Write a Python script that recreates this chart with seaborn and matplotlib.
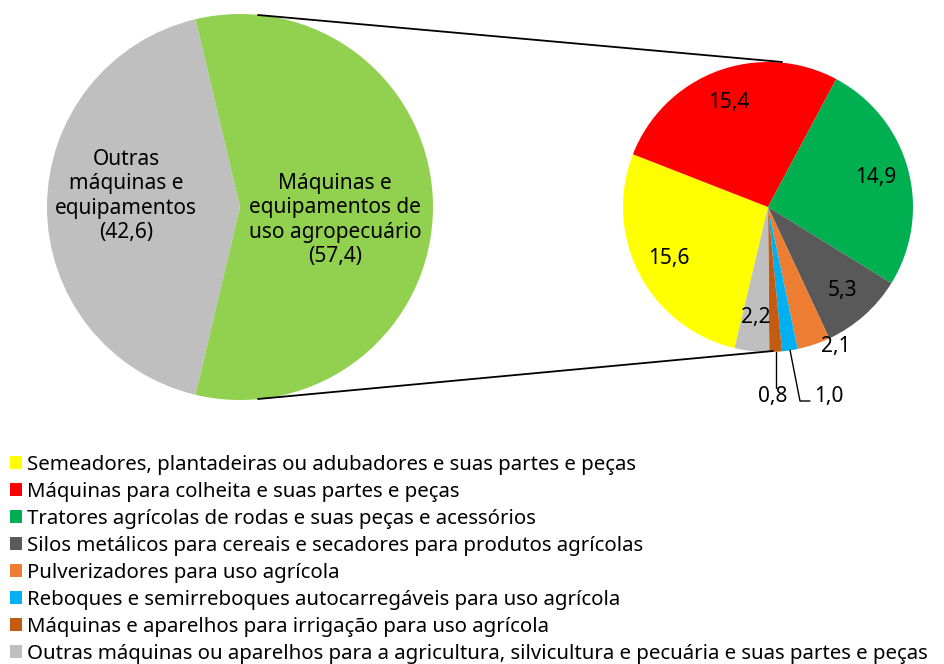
import numpy as np
import matplotlib
matplotlib.use("Agg")
import matplotlib.pyplot as plt
from matplotlib.patches import Patch
import seaborn as sns

# Share of sales: machinery groups (left) and breakdown of agricultural machinery (right)
main_labels = ["Outras\nmáquinas e\nequipamentos", "Máquinas e\nequipamentos de\nuso agropecuário"]
main_values = [42.6, 57.4]

sub_labels = [
    "Semeadores, plantadeiras ou adubadores e suas partes e peças",
    "Máquinas para colheita e suas partes e peças",
    "Tratores agrícolas de rodas e suas peças e acessórios",
    "Silos metálicos para cereais e secadores para produtos agrícolas",
    "Pulverizadores para uso agrícola",
    "Reboques e semirreboques autocarregáveis para uso agrícola",
    "Máquinas e aparelhos para irrigação para uso agrícola",
    "Outras máquinas ou aparelhos para a agricultura, silvicultura e pecuária e suas partes e peças",
]
sub_values = [15.6, 15.4, 14.9, 5.3, 2.1, 1.0, 0.8, 2.2]

sns.set_theme(style="white")
plt.rcParams["font.family"] = ["Noto Sans", "DejaVu Sans"]
plt.rcParams["text.color"] = "black"

main_colors = ["#BFBFBF", "#92D050"]
sub_colors = sns.color_palette(["#FFFF00", "#FF0000", "#00B050", "#595959",
                                "#ED7D31", "#00B0F0", "#C55A11", "#BFBFBF"])

W, H = 945, 664
fig = plt.figure(figsize=(W / 100, H / 100), dpi=100)
ax = fig.add_axes([0, 0, 1, 1])


def Y(y):
    return H - y


def fmt(v):
    return f"{v:.1f}".replace(".", ",")


FS = 15
LEG_FS = 14.7

# Left pie: the agricultural share is centred on the right-hand side
half = main_values[1] / sum(main_values) * 180
c1, r1 = (240, Y(207)), 193
ax.pie(main_values, colors=main_colors, startangle=half, counterclock=True,
       center=c1, radius=r1, frame=True, wedgeprops=dict(linewidth=0))

ax.text(126, Y(196), f"{main_labels[0]}\n({fmt(main_values[0])})", ha="center", va="center",
        fontsize=FS, linespacing=1.2)
ax.text(335, Y(220), f"{main_labels[1]}\n({fmt(main_values[1])})", ha="center", va="center",
        fontsize=FS, linespacing=1.2)

# Right pie: breakdown, clockwise from the lower-left
c2, r2 = (768, Y(207)), 145
wedges, _ = ax.pie(sub_values, colors=sub_colors, startangle=-half, counterclock=False,
                   center=c2, radius=r2, frame=True, wedgeprops=dict(linewidth=0))

# Value labels inside the larger slices
for i, w in enumerate(wedges):
    if i in (4, 5, 6):
        continue
    mid = np.deg2rad((w.theta1 + w.theta2) / 2)
    d = 0.77 * r2
    ax.text(c2[0] + d * np.cos(mid), c2[1] + d * np.sin(mid), fmt(sub_values[i]),
            ha="center", va="center", fontsize=FS)

# Small slices labelled outside
ax.text(836, Y(347), fmt(sub_values[4]), ha="center", va="center", fontsize=FS)
ax.plot([776, 776], [Y(352), Y(388)], color="black", lw=1)
ax.text(773, Y(397), fmt(sub_values[6]), ha="center", va="center", fontsize=FS)
ax.plot([790, 800, 810], [Y(350), Y(401), Y(401)], color="black", lw=1)
ax.text(814, Y(397), fmt(sub_values[5]), ha="left", va="center", fontsize=FS)

# Connector lines between the two pies
ax.plot([258, 782], [Y(15), Y(62)], color="black", lw=1.3)
ax.plot([258, 773], [Y(399), Y(351)], color="black", lw=1.3)

handles = [Patch(facecolor=c, edgecolor="none") for c in sub_colors]
ax.legend(handles, sub_labels, loc="upper left", bbox_to_anchor=(10 / W, 1 - 455 / H),
          bbox_transform=fig.transFigure, frameon=False, fontsize=LEG_FS,
          handlelength=0.6, handleheight=0.6, handletextpad=0.25,
          labelspacing=0.34, borderpad=0, borderaxespad=0, labelcolor="black")

ax.set_xlim(0, W)
ax.set_ylim(0, H)
ax.set_aspect("equal")
ax.axis("off")

fig.savefig("out.png", dpi=100, facecolor="white")
